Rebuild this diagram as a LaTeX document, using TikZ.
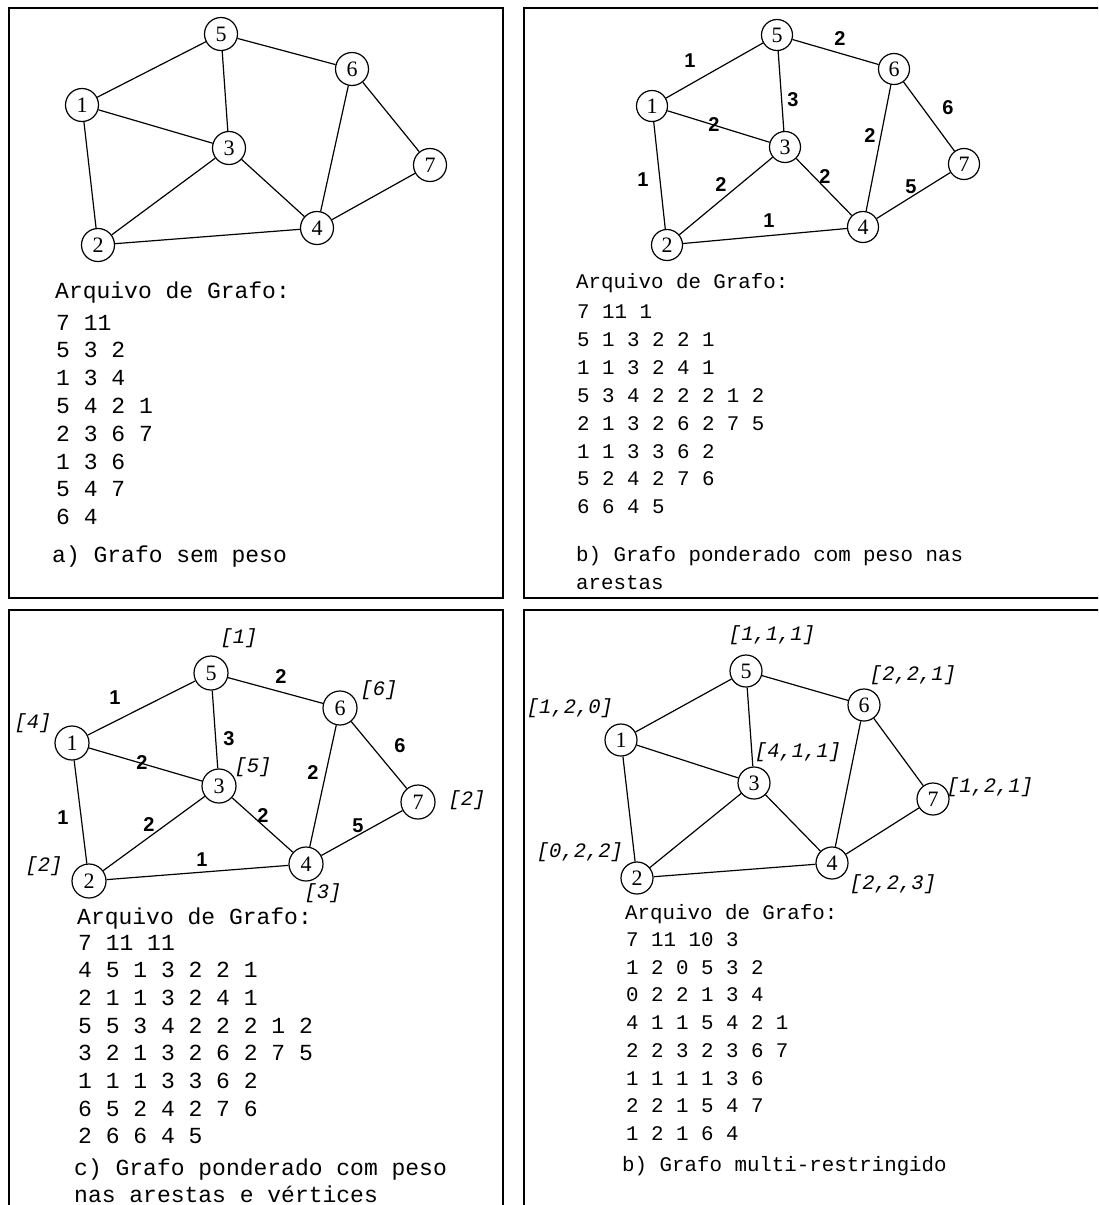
\documentclass[tikz,border=0pt]{standalone}
\usepackage{fontspec}
\setmainfont{Liberation Serif}
\setsansfont{Liberation Sans}
\setmonofont{Liberation Mono}
\usepackage{tikz}
\usetikzlibrary{positioning}

\begin{document}
\begin{tikzpicture}[
      x=1pt, y=-1pt,
      vtx/.style={circle, draw, line width=1.2pt, minimum size=#1, inner sep=0pt, font=\fontsize{22}{22}\rmfamily},
      vtx/.default=33,
      aresta/.style={line width=1.2pt},
      painel/.style={line width=1.2pt},
      peso/.style={inner sep=0pt, font=\fontsize{20}{20}\sffamily\bfseries},
      vpeso/.style={inner sep=0pt, font=\fontsize{20.5}{21}\ttfamily\itshape},
      arqg/.style={inner sep=0pt, anchor=base west, font=\fontsize{23}{28}\ttfamily},
      arqp/.style={inner sep=0pt, anchor=base west, font=\fontsize{20.8}{28}\ttfamily}
    ]
    \useasboundingbox (0,0) rectangle (1098,1205);
    \clip (0,0) rectangle (1098,1205);

    % molduras
    \draw[painel] (9,8) rectangle (503,598);
    \draw[painel] (524,8) rectangle (1110,598);
    \draw[painel] (9,610) rectangle (503,1215);
    \draw[painel] (524,610) rectangle (1110,1215);

    % a) grafo sem peso
    \node[vtx] (a1) at (82,105) {1};
    \node[vtx] (a2) at (98,245) {2};
    \node[vtx] (a3) at (229,148) {3};
    \node[vtx] (a4) at (317,228) {4};
    \node[vtx] (a5) at (221,34) {5};
    \node[vtx] (a6) at (352,69) {6};
    \node[vtx] (a7) at (430,165) {7};
    \node[arqg] (ta) at (55,298) {Arquivo de Grafo:};
    \foreach \t [count=\i] in {7 11, 5 3 2, 1 3 4, 5 4 2 1, 2 3 6 7, 1 3 6, 5 4 7, 6 4}
      \node[arqg] (la\i) at (56,{302.2+27.8*\i}) {\t};
    \node[arqg] (ca) at (52,562) {a) Grafo sem peso};

    % b) peso nas arestas
    \node[vtx=31] (b1) at (652,106) {1};
    \node[vtx=31] (b2) at (667,245) {2};
    \node[vtx=31] (b3) at (785,147) {3};
    \node[vtx=31] (b4) at (863,227) {4};
    \node[vtx=31] (b5) at (777,35) {5};
    \node[vtx=31] (b6) at (894,69) {6};
    \node[vtx=31] (b7) at (964,164) {7};
    \node[peso] (pb15) at (690,61) {1};
    \node[peso] (pb56) at (840,39) {2};
    \node[peso] (pb53) at (793,100) {3};
    \node[peso] (pb13) at (714,125) {2};
    \node[peso] (pb12) at (643,180) {1};
    \node[peso] (pb23) at (721,185) {2};
    \node[peso] (pb34) at (825,177) {2};
    \node[peso] (pb24) at (769,221) {1};
    \node[peso] (pb64) at (870,136) {2};
    \node[peso] (pb67) at (948,108) {6};
    \node[peso] (pb47) at (911,187) {5};
    \node[arqp] (tb) at (576,288) {Arquivo de Grafo:};
    \foreach \t [count=\i] in {7 11 1, 5 1 3 2 2 1, 1 1 3 2 4 1, 5 3 4 2 2 2 1 2, 2 1 3 2 6 2 7 5, 1 1 3 3 6 2, 5 2 4 2 7 6, 6 6 4 5}
      \node[arqp] (lb\i) at (577,{290.6+27.9*\i}) {\t};
    \node[arqp] (cb1) at (576,561.5) {b) Grafo ponderado com peso nas};
    \node[arqp] (cb2) at (576,589.5) {arestas};

    % c) peso nas arestas e vertices
    \node[vtx=34] (c1) at (72,743) {1};
    \node[vtx=34] (c2) at (89,881) {2};
    \node[vtx=34] (c3) at (219,786) {3};
    \node[vtx=34] (c4) at (306,864) {4};
    \node[vtx=34] (c5) at (211,673) {5};
    \node[vtx=34] (c6) at (340,708) {6};
    \node[vtx=34] (c7) at (418,802) {7};
    \node[peso] (pc15) at (115,698) {1};
    \node[peso] (pc56) at (281,677) {2};
    \node[peso] (pc53) at (229,739) {3};
    \node[peso] (pc13) at (142,763) {2};
    \node[peso] (pc12) at (63,818) {1};
    \node[peso] (pc23) at (149,825) {2};
    \node[peso] (pc34) at (263,816) {2};
    \node[peso] (pc24) at (202,860) {1};
    \node[peso] (pc64) at (313,773) {2};
    \node[peso] (pc67) at (400,746) {6};
    \node[peso] (pc47) at (358,826) {5};
    \node[vpeso] (vc5) at (239,638) {[1]};
    \node[vpeso] (vc6) at (379,690) {[6]};
    \node[vpeso] (vc1) at (33,723) {[4]};
    \node[vpeso] (vc3) at (253,767) {[5]};
    \node[vpeso] (vc7) at (467,800) {[2]};
    \node[vpeso] (vc2) at (44,866) {[2]};
    \node[vpeso] (vc4) at (323,893) {[3]};
    \node[arqg] (tc) at (77,924) {Arquivo de Grafo:};
    \foreach \t [count=\i] in {7 11 11, 4 5 1 3 2 2 1, 2 1 1 3 2 4 1, 5 5 3 4 2 2 2 1 2, 3 2 1 3 2 6 2 7 5, 1 1 1 3 3 6 2, 6 5 2 4 2 7 6, 2 6 6 4 5}
      \node[arqg] (lc\i) at (78,{922.3+27.7*\i}) {\t};
    \node[arqg] (cc1) at (74,1175) {c) Grafo ponderado com peso};
    \node[arqg] (cc2) at (74,1202) {nas arestas e vértices};

    % d) multi-restringido
    \node[vtx=32] (d1) at (621,740) {1};
    \node[vtx=32] (d2) at (637,878) {2};
    \node[vtx=32] (d3) at (754,783) {3};
    \node[vtx=32] (d4) at (832,863) {4};
    \node[vtx=32] (d5) at (746,671) {5};
    \node[vtx=32] (d6) at (864,705) {6};
    \node[vtx=32] (d7) at (933,799) {7};
    \node[vpeso] (vd5) at (772,635) {[1,1,1]};
    \node[vpeso] (vd6) at (913,675) {[2,2,1]};
    \node[vpeso] (vd1) at (570,708) {[1,2,0]};
    \node[vpeso] (vd3) at (798,752) {[4,1,1]};
    \node[vpeso] (vd7) at (990,787) {[1,2,1]};
    \node[vpeso] (vd2) at (580,852) {[0,2,2]};
    \node[vpeso] (vd4) at (893,884) {[2,2,3]};
    \node[arqp] (td) at (625,919.5) {Arquivo de Grafo:};
    \foreach \t [count=\i] in {7 11 10 3, 1 2 0 5 3 2, 0 2 2 1 3 4, 4 1 1 5 4 2 1, 2 2 3 2 3 6 7, 1 1 1 1 3 6, 2 2 1 5 4 7, 1 2 1 6 4}
      \node[arqp] (ld\i) at (626,{918.8+27.7*\i}) {\t};
    \node[arqp] (cd) at (622,1171.5) {b) Grafo multi-restringido};

    % arestas (iguais nos quatro grafos)
    \foreach \p in {a,b,c,d}
      \foreach \u/\v in {1/5, 5/6, 5/3, 1/3, 1/2, 2/3, 3/4, 2/4, 6/4, 6/7, 4/7}
        \draw[aresta] (\p\u) -- (\p\v);
  \end{tikzpicture}
\end{document}
